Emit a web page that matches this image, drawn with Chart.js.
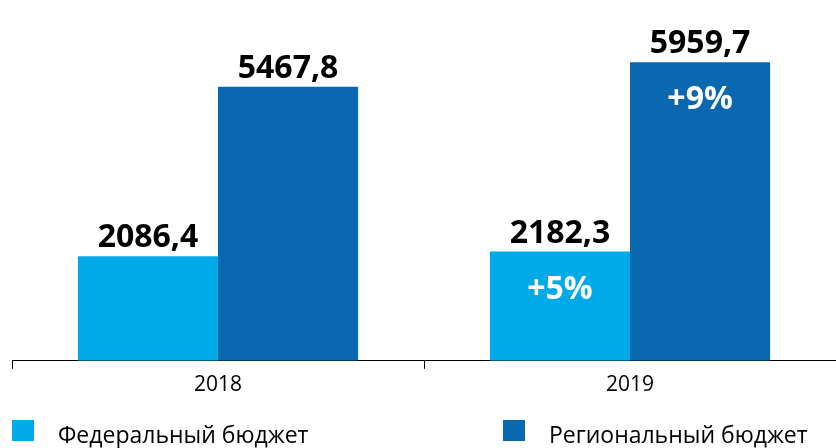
<!DOCTYPE html>
<html>
<head>
<meta charset="utf-8">
<script src="https://cdn.jsdelivr.net/npm/chart.js@4/dist/chart.umd.min.js"></script>
<style>
  html, body { margin: 0; padding: 0; background: #fff; }
  #wrap { width: 836px; height: 448px; position: relative; }
</style>
</head>
<body>
<div id="wrap"><canvas id="budgetChart"></canvas></div>
<script>
const years = ['2018', '2019'];
const federal = [2086.4, 2182.3];
const regional = [5467.8, 5959.7];
const federalGrowth = [null, 5];
const regionalGrowth = [null, 9];
const seriesNames = ['Федеральный бюджет', 'Региональный бюджет'];

const FONT = "'Open Sans', 'Noto Sans', sans-serif";

// value labels above bars, growth labels inside
const barLabels = {
  id: 'barLabels',
  afterDatasetsDraw(chart) {
    const ctx = chart.ctx;
    ctx.save();
    ctx.textAlign = 'center';
    chart.data.datasets.forEach((ds, di) => {
      const meta = chart.getDatasetMeta(di);
      meta.data.forEach((bar, i) => {
        ctx.fillStyle = '#000';
        ctx.font = 'bold 32px ' + FONT;
        ctx.textBaseline = 'bottom';
        ctx.fillText(ds.data[i].toFixed(1).replace('.', ','), bar.x, bar.y - 2);
        const g = ds.growth[i];
        if (g != null) {
          ctx.fillStyle = '#fff';
          ctx.textBaseline = 'middle';
          ctx.fillText('+' + g + '%', bar.x, bar.y + 38);
        }
      });
    });
    ctx.restore();
  }
};

const bottomLegend = {
  id: 'bottomLegend',
  afterDraw(chart) {
    const ctx = chart.ctx;
    const spots = [12, 503];
    ctx.save();
    ctx.font = '23px ' + FONT;
    ctx.textBaseline = 'middle';
    ctx.textAlign = 'left';
    chart.data.datasets.forEach((ds, di) => {
      const x = spots[di];
      ctx.fillStyle = ds.backgroundColor;
      ctx.fillRect(x, 420, 22, 21);
      ctx.fillStyle = '#000';
      ctx.fillText(ds.label, x + 46, 436);
    });
    ctx.restore();
  }
};

new Chart(document.getElementById('budgetChart'), {
  type: 'bar',
  data: {
    labels: years,
    datasets: [
      { label: seriesNames[0], data: federal, growth: federalGrowth, backgroundColor: '#00A9E8' },
      { label: seriesNames[1], data: regional, growth: regionalGrowth, backgroundColor: '#0A68B1' }
    ]
  },
  options: {
    responsive: true,
    maintainAspectRatio: false,
    animation: false,
    layout: { padding: { top: 10, left: 12, right: -10, bottom: 46 } },
    datasets: { bar: { barPercentage: 1, categoryPercentage: 0.68 } },
    plugins: { legend: { display: false }, tooltip: { enabled: false } },
    scales: {
      x: {
        grid: { drawOnChartArea: false, drawTicks: true, tickLength: 8, color: '#000', offset: true },
        border: { color: '#000', width: 1 },
        ticks: { color: '#000', font: { family: FONT, size: 21 }, padding: 4 }
      },
      y: { display: false, min: 0, max: 7000 }
    }
  },
  plugins: [barLabels, bottomLegend]
});
</script>
</body>
</html>
